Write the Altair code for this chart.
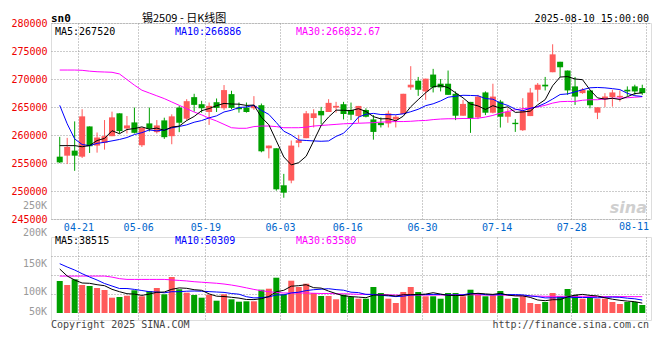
import altair as alt
import pandas as pd

# ---------------- data ----------------
dates = ["04-16","04-17","04-18","04-21","04-22","04-23","04-24","04-25","04-28","04-29","04-30",
         "05-06","05-07","05-08","05-09","05-12","05-13","05-14","05-15","05-16",
         "05-19","05-20","05-21","05-22","05-23","05-26","05-27","05-28","05-29","05-30",
         "06-03","06-04","06-05","06-06","06-09","06-10","06-11","06-12","06-13",
         "06-16","06-17","06-18","06-19","06-20","06-23","06-24","06-25","06-26","06-27",
         "06-30","07-01","07-02","07-03","07-04","07-07","07-08","07-09","07-10","07-11",
         "07-14","07-15","07-16","07-17","07-18","07-21","07-22","07-23","07-24","07-25",
         "07-28","07-29","07-30","07-31","08-01","08-04","08-05","08-06","08-07","08-08"]

opens = [256130,256310,257210,256130,261530,258110,258590,259790,263870,261170,
         262250,258170,262070,260510,262610,259790,264900,262910,266760,265500,
         264110,265860,264780,267300,264900,264900,264780,265320,257630,257630,
         251020,251860,258590,259430,263030,264300,264110,264900,265500,264470,
         263380,264470,262780,262180,262060,262780,263740,268500,269700,267780,
         270790,269160,269160,267360,263440,265910,263140,267600,263980,265970,
         263260,262180,260850,263380,268080,268980,271210,273070,271510,268680,
         267480,267960,263980,266390,266750,266750,268080,268680,268380]
highs = [259670,259490,262430,264600,261530,260450,262670,264170,263870,263390,
         264900,261290,264900,262670,263090,263690,265200,266400,267360,266100,
         265800,266520,268920,267900,265800,265800,266940,265620,258110,257630,
         253060,259010,260030,264290,264600,265020,266400,265920,265920,265790,
         265190,264770,263560,263140,264350,263560,267360,272290,270370,270060,
         271810,270000,271510,267780,266270,265910,267170,267780,269160,266270,
         264770,262840,266570,268380,269280,270370,276200,273070,271510,270370,
         268380,267960,264950,267480,268080,267960,268680,268980,268980]
lows = [254990,254810,253600,255900,256790,256850,257390,259790,260270,260270,
        260270,257870,260630,260270,259310,258350,260510,262610,264170,263990,
        261800,264110,264480,264600,263990,263990,264480,256910,255830,250060,
        248800,251380,257810,259430,261350,261950,264110,263990,262790,262660,
        262180,263140,259170,261340,261340,261340,263740,268080,266990,266270,
        267600,267780,267170,262660,263440,260380,262840,263560,263860,261330,
        262180,260550,260730,263380,265970,267960,271210,270370,267170,265370,
        267360,264770,262840,264950,265070,265970,266990,267170,267170]
closes = [255110,257870,256310,263330,257990,259550,259790,263150,260690,261710,
          260390,261290,261110,261710,259610,263330,262190,266040,265380,264780,
          265200,264840,268020,264840,264600,264110,265200,257090,258110,250300,
          249700,258110,259070,263870,263870,263510,265740,265200,263750,263620,
          265190,263260,260550,261760,263860,263260,267360,268980,268080,270060,
          268500,268500,267170,263440,265550,262960,266860,263980,266860,263260,
          264160,261940,264350,267580,268980,268680,274400,272110,267960,266860,
          268080,265310,264950,266870,267600,266990,267780,267780,267480]

ma5 = [258100,258100,258100,257900,258120,259010,259390,260760,260230,260980,
       261150,261450,261040,261240,260820,261410,261590,262580,263310,264340,
       264720,265240,265640,265530,265500,265280,265350,263170,261820,258960,
       256080,254660,255060,256210,258930,261690,263210,264440,264410,264360,
       264700,264200,263280,262880,262920,262540,263360,265040,266310,267550,
       268600,268820,268460,267540,266630,265530,265200,264560,265240,264790,
       265030,264040,264110,264260,265400,266310,268800,270350,270430,270000,
       269880,268060,266630,266410,266560,266340,266840,267400,267520]
ma10 = [265300,262000,259300,258300,258100,258500,258700,258950,259200,259550,
        260080,260420,260900,260740,260900,261280,261520,261810,262280,262580,
        263060,263420,264110,264420,264920,265000,265300,264400,263680,262230,
        260680,260010,259110,259020,258940,258880,258940,259750,260310,261650,
        263190,263710,263860,263650,263640,263620,263780,264160,264590,265240,
        265570,266090,266750,266920,267090,267060,267010,266510,266390,265710,
        265280,264620,264340,264750,265090,265670,266420,267230,267340,267700,
        268090,268430,268490,268420,268280,268110,267450,267020,266886]
ma30 = [271600,271600,271600,271550,271400,271300,271250,271200,270900,269900,
        268900,268000,267500,267000,266500,265900,265300,264700,264100,263600,
        263000,262500,261900,261300,261200,261200,261500,261600,261600,261500,
        261300,261300,261300,261400,261600,261700,261800,261900,262000,262050,
        262100,262150,262200,262300,262350,262400,262400,262450,262550,262600,
        262750,262850,262900,262900,262950,262950,263000,263200,263500,263900,
        264200,264500,264700,264800,265000,265300,265700,265950,266000,266000,
        266200,266300,266300,266450,266550,266600,266650,266750,266833]

volume = [124800,109200,131430,109200,105300,97500,89700,59670,62400,67470,
          88530,65130,85800,97500,72930,140400,92430,79170,70200,59670,
          71370,47970,72930,53430,44070,45630,45630,90870,94770,137670,
          72930,125970,101400,114270,78000,66300,66300,53430,71370,62400,
          55770,55770,101400,78000,55770,39000,81900,101400,81900,65130,
          65130,55770,78000,78000,65130,90870,72930,65130,69030,85800,
          55770,58500,65130,39000,35100,42900,78000,65130,93600,70200,
          55770,58500,55770,55770,42900,35100,42900,42900,31200]
vol_ma5 = [171600,144300,128700,117000,115830,110370,106470,92430,83070,75270,
           73710,68640,73710,80730,81900,92430,97890,96330,90870,88530,
           74490,65520,64350,61230,58110,52650,52260,55770,64350,83070,
           88530,104520,106470,110370,98670,97110,85410,75660,67080,63960,
           62010,59670,69420,70590,69420,65910,71370,71370,72150,73710,
           79170,73710,69030,68250,68250,73710,76830,74490,72540,76830,
           69810,66690,66690,60840,50700,47970,51870,51870,62790,69810,
           72540,68640,66690,59280,53820,49530,46410,44070,38515]
vol_ma10 = [192270,179400,167700,153270,140400,128700,115050,105300,95550,95550,
            92040,87750,83070,81900,78780,83070,83070,85020,85800,85020,
            83460,81900,80340,76050,73320,63570,58890,60060,62790,70590,
            70590,78390,81120,87360,90870,92820,94770,91260,88920,81120,
            79560,72540,72540,69030,66690,63960,65520,70200,71370,71760,
            72540,72540,70200,70200,70980,76440,75270,71760,70590,72540,
            71760,71760,70590,66690,63570,58890,59280,59280,62010,60450,
            60450,60450,59280,61230,62010,61230,57720,55380,50309]
vol_ma30 = [144000,144000,144000,144000,144000,144000,144000,140000,134000,131000,
            131000,131000,131000,131000,131000,129000,127000,125000,122000,120000,
            118000,116000,113000,109000,104000,98000,92000,87000,83000,80000,
            78000,78000,78000,78000,77000,76000,76000,75000,75000,74000,
            73000,73000,72000,72000,71000,70000,70000,70000,70000,70000,
            70000,70000,70000,71000,71000,71000,71000,70000,70000,70000,
            69000,68000,67000,66000,66000,65000,65000,65000,65000,65000,
            65000,65000,64000,64000,64000,64000,64000,63800,63580]

tick_labels = ["04-21", "05-06", "05-19", "06-03", "06-16", "06-30", "07-14", "07-28", "08-11"]
price_ticks = [245000, 250000, 255000, 260000, 265000, 270000, 275000, 280000]
vol_tick_labels = ["200K", "150K", "100K", "50K"]
vol_tick_values = [312000, 191100, 81900, 3900]
stray_label = "250K"
stray_label_value = 247300

title_text = "锡2509 - 日K线图"
code_text = "sn0"
stamp_text = "2025-08-10 15:00:00"
price_legend = ["MA5:267520", "MA10:266886", "MA30:266832.67"]
vol_legend = ["MA5:38515", "MA10:50309", "MA30:63580"]
copyright_text = "Copyright 2025 SINA.COM"
url_text = "http://finance.sina.com.cn"
logo_text = "sina"

# ---------------- styling ----------------
UP, DOWN = "#ff5a5a", "#00a000"
MA_COLORS = ["#000000", "#0000ff", "#ff00ff"]
GRID = "#999999"
DATE_COLOR = "#0066cc"
MONO = "DejaVu Sans Mono"
CJK = "Noto Sans CJK SC"
W, H1, H2 = 600, 196, 83
n = len(dates)

# gridline positions: left edge of each labelled day's slot
tick_pos = [dates.index(d) - 0.5 if d in dates else n - 0.5 for d in tick_labels]
inner = [(p, l) for p, l in zip(tick_pos, tick_labels) if l in dates]
last_label = [l for l in tick_labels if l not in dates]
label_expr = " : ".join(f"datum.value == {p} ? '{l}'" for p, l in inner) + " : ''"

df = pd.DataFrame({"idx": list(range(n)), "date": dates, "open": opens, "high": highs,
                   "low": lows, "close": closes, "volume": volume})
df["dir"] = ["up" if c >= o else "down" for o, c in zip(opens, closes)]

xscale = alt.Scale(domain=[-0.5, n - 0.5], nice=False, zero=False)
pscale = alt.Scale(domain=[price_ticks[0], price_ticks[-1]], nice=False, zero=False)
vtop = 296400
vscale = alt.Scale(domain=[-27300, vtop], nice=False, zero=False)
vol_grid = [vtop * k / 4 for k in (1, 2, 3)]

color = alt.Color("dir:N", scale=alt.Scale(domain=["up", "down"], range=[UP, DOWN]), legend=None)

x_axis_p = alt.Axis(values=tick_pos, labelExpr=label_expr, grid=True, gridDash=[1, 2], gridColor=GRID,
                    ticks=False, domain=False, labelColor=DATE_COLOR, labelFont=MONO, labelFontSize=10,
                    labelPadding=3, labelFlush=False, title=None)
y_axis_p = alt.Axis(values=price_ticks, format="d", grid=True, gridDash=[1, 2], gridColor=GRID,
                    ticks=False, domain=False, labelColor="#ee0000", labelFont=MONO, labelFontSize=10,
                    labelPadding=4, title=None)
x_axis_v = alt.Axis(values=tick_pos, labels=False, grid=True, gridDash=[1, 2], gridColor=GRID,
                    ticks=False, domain=False, title=None)
y_axis_v = alt.Axis(values=vol_grid, labels=False, grid=True, gridDash=[1, 2], gridColor=GRID,
                    ticks=False, domain=False, title=None)

X_P = alt.X("idx:Q", scale=xscale, axis=x_axis_p)
X_V = alt.X("idx:Q", scale=xscale, axis=x_axis_v)


def label(text, x, y, col, size=10, font=MONO, align="left", weight="normal", style="normal"):
    return alt.Chart(pd.DataFrame({"t": [text]})).mark_text(
        align=align, baseline="middle", color=col, fontSize=size, font=font,
        fontWeight=weight, fontStyle=style).encode(text="t:N", x=alt.value(x), y=alt.value(y))


def ma_line(values, col, X, scale, axis):
    d = pd.DataFrame({"idx": list(range(n)), "val": values})
    return alt.Chart(d).mark_line(color=col, strokeWidth=1).encode(
        x=X, y=alt.Y("val:Q", scale=scale, axis=axis))


# ---------------- price panel ----------------
wick = alt.Chart(df).mark_rule(strokeWidth=1).encode(
    x=X_P, y=alt.Y("low:Q", scale=pscale, axis=y_axis_p), y2="high:Q", color=color)
body = alt.Chart(df).mark_bar(size=6).encode(
    x=X_P, y=alt.Y("open:Q", scale=pscale, axis=y_axis_p), y2="close:Q", color=color)
stray = alt.Chart(pd.DataFrame({"t": [stray_label], "v": [stray_label_value]})).mark_text(
    align="right", baseline="middle", color="#999999", fontSize=10, font=MONO).encode(
    text="t:N", x=alt.value(-4), y=alt.Y("v:Q", scale=pscale, axis=y_axis_p))

price_layers = [wick, body,
                ma_line(ma30, MA_COLORS[2], X_P, pscale, y_axis_p),
                ma_line(ma10, MA_COLORS[1], X_P, pscale, y_axis_p),
                ma_line(ma5, MA_COLORS[0], X_P, pscale, y_axis_p),
                stray,
                label(code_text, 0, -4.5, "#000000", size=11, weight="bold"),
                label(title_text, 91, -4.5, "#000000", size=11, font=CJK),
                label(stamp_text, 598, -4.5, "#000000", align="right"),
                label(price_legend[0], 4, 8.5, MA_COLORS[0]),
                label(price_legend[1], 124, 8.5, MA_COLORS[1]),
                label(price_legend[2], 245, 8.5, MA_COLORS[2]),
                label(logo_text, 596, 185, "#cfcfcf", size=16, font="DejaVu Sans", align="right",
                      weight="bold", style="italic")]
for l in last_label:
    price_layers.append(label(l, 598, H1 + 8, DATE_COLOR, align="right"))
price = alt.layer(*price_layers).properties(width=W, height=H1)

# ---------------- volume panel ----------------
vbars = alt.Chart(df).mark_bar(size=6).encode(
    x=X_V, y=alt.Y("volume:Q", scale=vscale, axis=y_axis_v), y2=alt.datum(0), color=color)
vlabels = alt.Chart(pd.DataFrame({"t": vol_tick_labels, "v": vol_tick_values})).mark_text(
    align="right", baseline="middle", color="#999999", fontSize=10, font=MONO).encode(
    text="t:N", x=alt.value(-4), y=alt.Y("v:Q", scale=vscale, axis=y_axis_v))

vol_layers = [vbars,
              ma_line(vol_ma30, MA_COLORS[2], X_V, vscale, y_axis_v),
              ma_line(vol_ma10, MA_COLORS[1], X_V, vscale, y_axis_v),
              ma_line(vol_ma5, MA_COLORS[0], X_V, vscale, y_axis_v),
              vlabels,
              label(vol_legend[0], 4, 3.5, MA_COLORS[0]),
              label(vol_legend[1], 124, 3.5, MA_COLORS[1]),
              label(vol_legend[2], 245, 3.5, MA_COLORS[2]),
              label(copyright_text, 0, 88, "#444444"),
              label(url_text, 598, 88, "#444444", align="right")]
vol = alt.layer(*vol_layers).properties(width=W, height=H2)

chart = alt.vconcat(price, vol, spacing=18, bounds="flush").properties(
    padding={"left": 2, "top": 4, "right": 0, "bottom": 0}
).configure_view(stroke="#999999", strokeWidth=1.5).configure(background="white")

chart.save("out.html", embed_options={"renderer": "svg", "actions": False})
